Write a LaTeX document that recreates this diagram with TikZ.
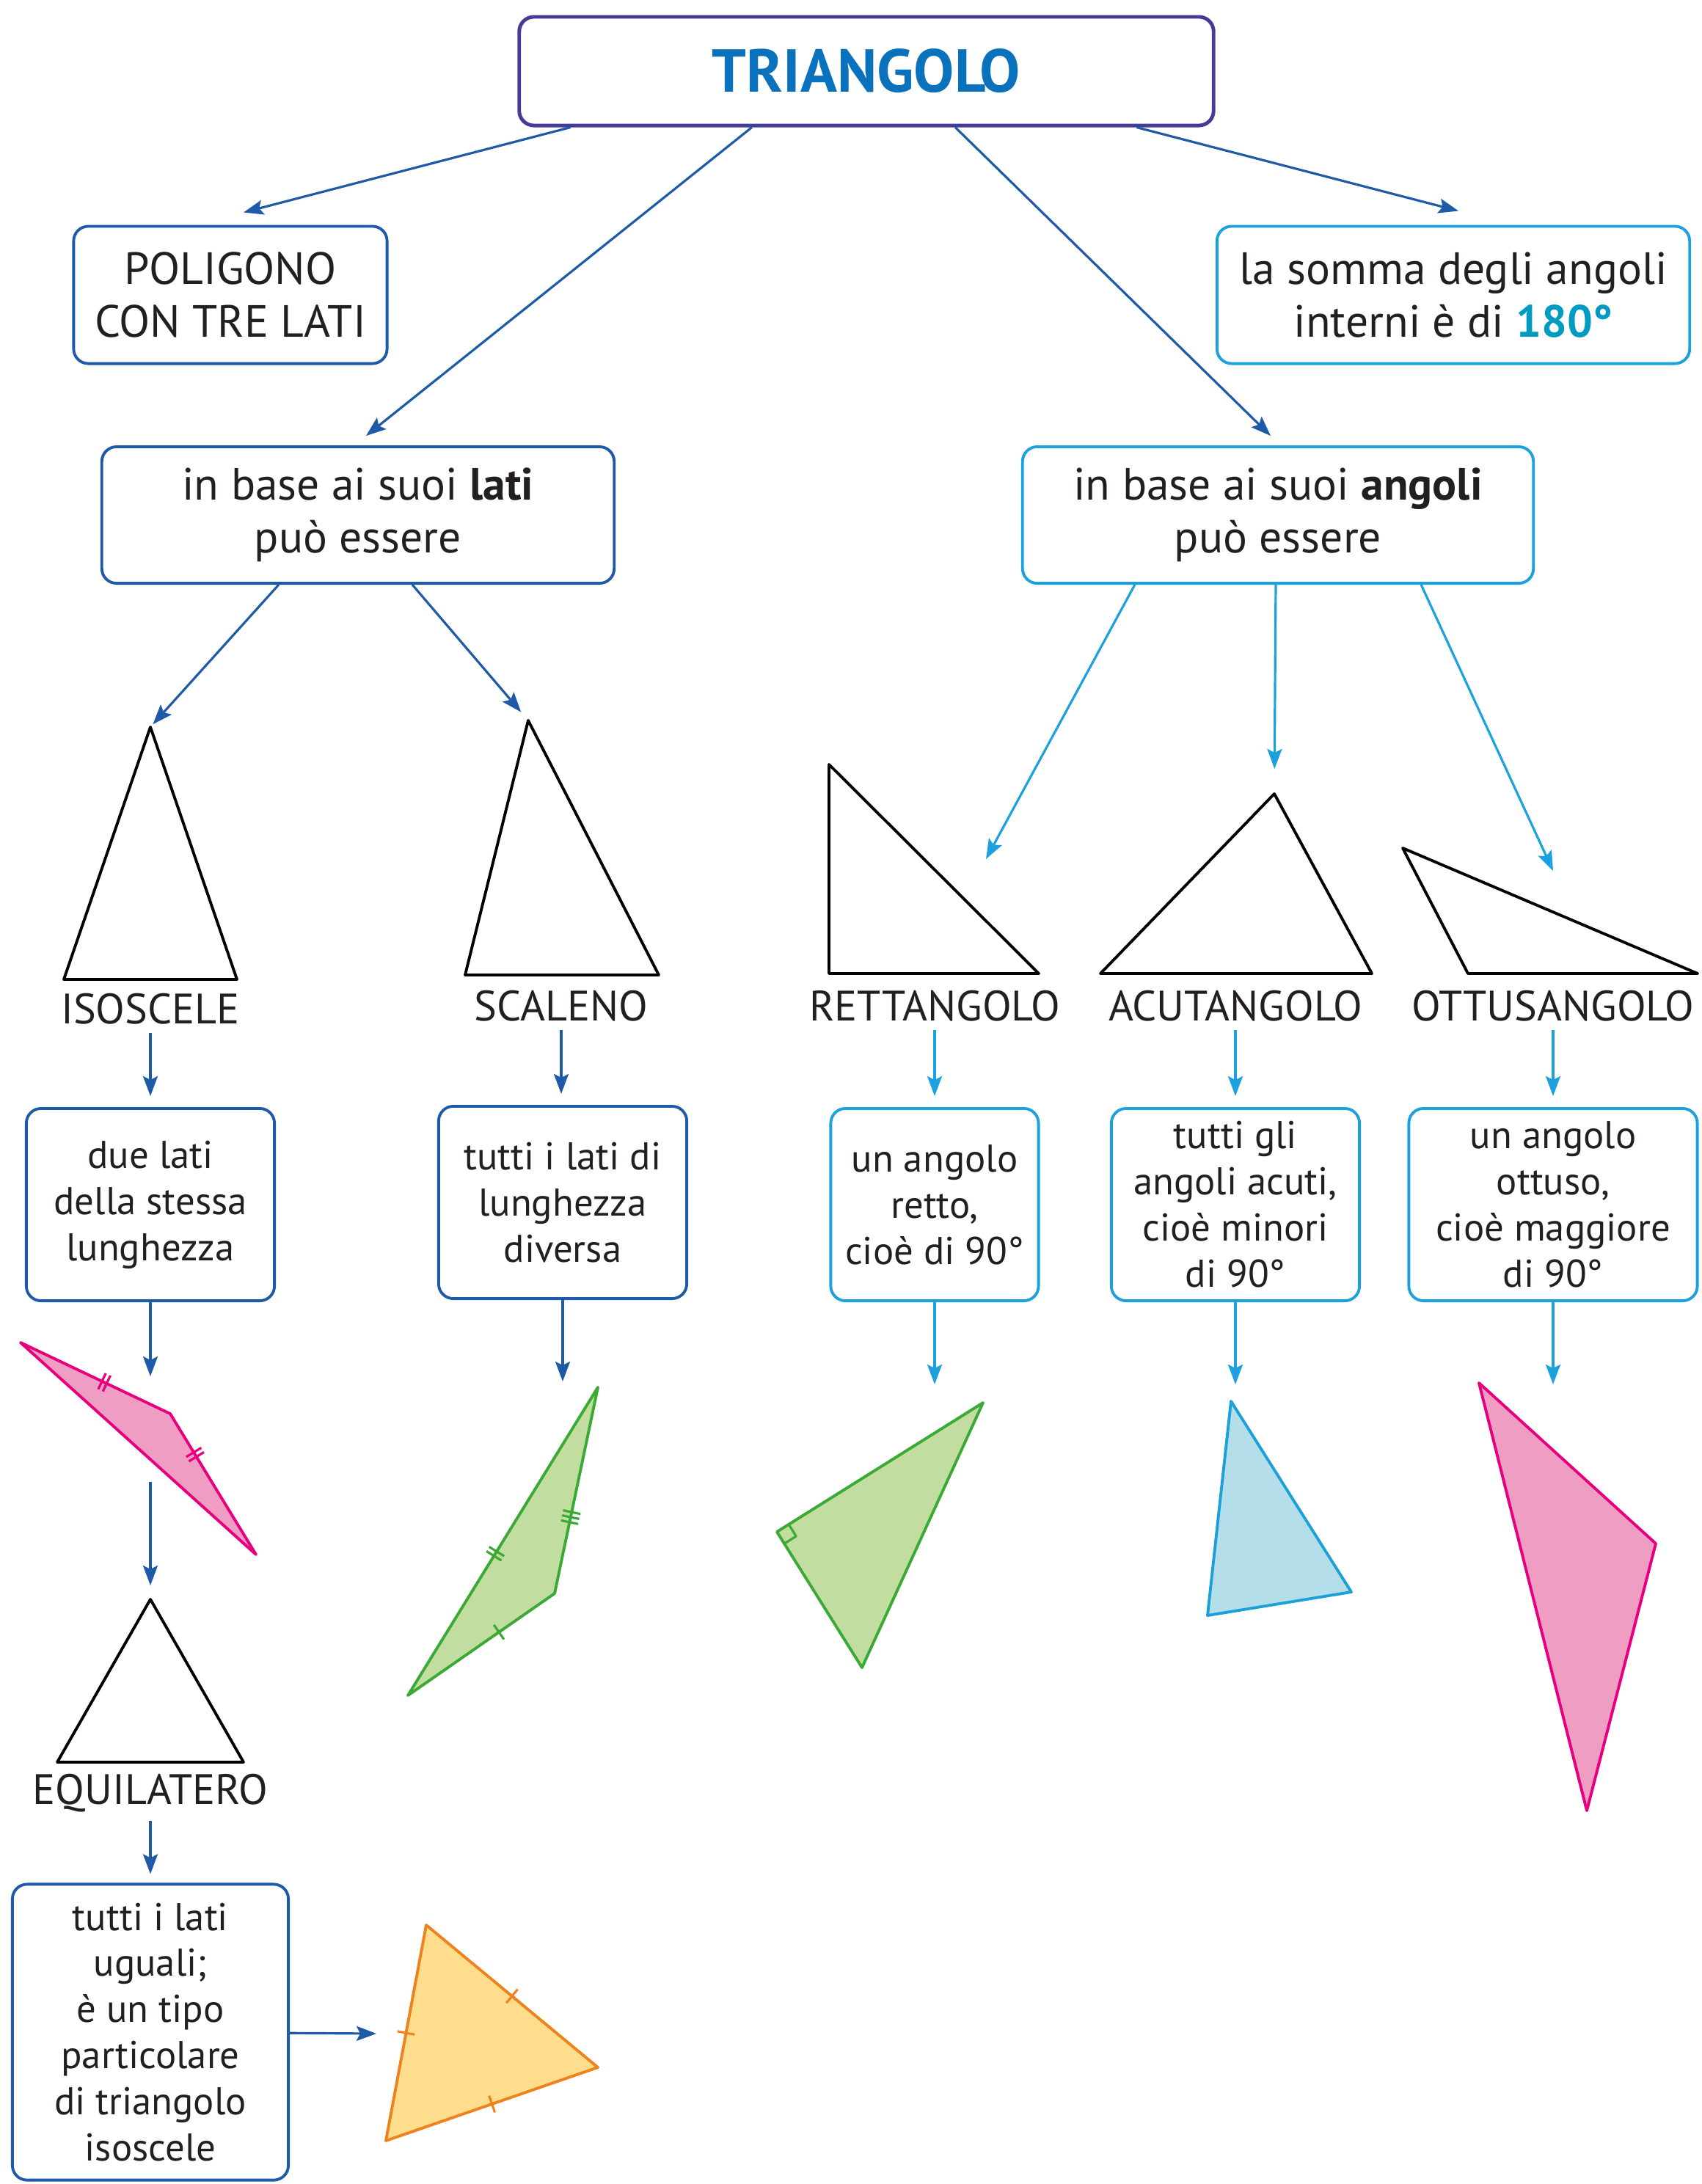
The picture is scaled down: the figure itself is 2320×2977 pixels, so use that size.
\documentclass[tikz,border=0pt]{standalone}
\usepackage{fontspec}
\setmainfont{PT Sans}
\usepackage{xcolor}
\usetikzlibrary{arrows.meta,calc,decorations.markings}

\definecolor{titleframe}{RGB}{68,60,150}
\definecolor{titleblue}{RGB}{10,114,188}
\definecolor{darkblue}{RGB}{30,90,168}
\definecolor{skyblue}{RGB}{28,160,222}
\definecolor{tealtext}{RGB}{0,155,195}
\definecolor{inktext}{RGB}{35,31,32}
\definecolor{pinkline}{RGB}{230,0,126}
\definecolor{pinkfill}{RGB}{240,157,196}
\definecolor{greenline}{RGB}{58,170,53}
\definecolor{greenfill}{RGB}{194,221,160}
\definecolor{blueline}{RGB}{28,160,216}
\definecolor{bluefill}{RGB}{180,222,234}
\definecolor{orangeline}{RGB}{240,130,30}
\definecolor{orangefill}{RGB}{254,222,140}

\tikzset{
  box/.style={draw=darkblue, rounded corners=0.2cm, line width=1.1pt, align=center,
    inner sep=0pt, text=inktext, font=\fontsize{17.5}{20.4}\selectfont},
  lightbox/.style={box, draw=skyblue},
  smallfont/.style={font=\fontsize{15}{17.9}\selectfont},
  lbl/.style={text=inktext, font=\fontsize{16.5}{19}\selectfont},
  arrD/.style={color=darkblue, line width=0.9pt, -{Stealth[length=0.27cm,width=0.2cm,inset=0.05cm]}},
  arrL/.style={arrD, color=skyblue},
  outl/.style={draw=black, line width=1.1pt},
  tickA/.style={postaction={decorate,decoration={markings,mark=at position #1 with
    {\draw[line width=0.9pt] (0,-0.12cm) -- (0,0.12cm);}}}},
  tickB/.style={postaction={decorate,decoration={markings,mark=at position #1 with
    {\foreach \d in {-0.035,0.035} \draw[line width=0.9pt] (\d cm,-0.12cm) -- (\d cm,0.12cm);}}}},
  tickC/.style={postaction={decorate,decoration={markings,mark=at position #1 with
    {\foreach \d in {-0.07,0,0.07} \draw[line width=0.9pt] (\d cm,-0.12cm) -- (\d cm,0.12cm);}}}},
}

\begin{document}
\begin{tikzpicture}[x=0.01cm, y=-0.01cm, line join=round]
    \useasboundingbox (0,0) rectangle (2320,2977);

    \node[box, draw=titleframe, line width=1.4pt, minimum width=9.46cm, minimum height=1.48cm,
      font=\fontsize{23.5}{27}\selectfont\bfseries, text=titleblue] (title) at (1181,97) {TRIANGOLO};

    \node[box, minimum width=4.27cm, minimum height=1.87cm] (poli) at (314,402) {POLIGONO\\CON TRE LATI};
    \node[lightbox, minimum width=6.44cm, minimum height=1.87cm] (somma) at (1981,402)
      {la somma degli angoli\\interni è di \textcolor{tealtext}{\bfseries 180°}};
    \node[box, minimum width=6.98cm, minimum height=1.86cm] (lati) at (488,702) {in base ai suoi \textbf{lati}\\può essere};
    \node[lightbox, minimum width=6.96cm, minimum height=1.86cm] (angoli) at (1742,702) {in base ai suoi \textbf{angoli}\\può essere};

    \draw[arrD] ([xshift=-4.03cm]title.south) -- ([xshift=0.18cm,yshift=0.17cm]poli.north);
    \draw[arrD] ([xshift=-1.56cm]title.south) -- ([xshift=0.11cm,yshift=0.13cm]lati.north);
    \draw[arrD] ([xshift=1.21cm]title.south) -- ([xshift=-0.10cm,yshift=0.13cm]angoli.north);
    \draw[arrD] ([xshift=3.68cm]title.south) -- ([xshift=0.07cm,yshift=0.19cm]somma.north);

    \coordinate (isoA) at (205,991);  \coordinate (isoB) at (87,1335);   \coordinate (isoC) at (323,1335);
    \coordinate (sclA) at (720,982);  \coordinate (sclB) at (634,1329);  \coordinate (sclC) at (898,1329);
    \coordinate (retA) at (1130,1042); \coordinate (retB) at (1130,1327); \coordinate (retC) at (1416,1327);
    \coordinate (acuA) at (1737,1082); \coordinate (acuB) at (1500,1327); \coordinate (acuC) at (1870,1327);
    \coordinate (ottA) at (1912,1156); \coordinate (ottB) at (2001,1327); \coordinate (ottC) at (2314,1327);
    \coordinate (equA) at (205,2180); \coordinate (equB) at (78,2402);   \coordinate (equC) at (332,2402);

    \foreach \t in {iso,scl,ret,acu,ott,equ}
        \draw[outl] (\t A) -- (\t B) -- (\t C) -- cycle;

    \node[lbl] (isoL) at (205,1375) {ISOSCELE};
    \node[lbl] (sclL) at (765,1371) {SCALENO};
    \node[lbl] (retL) at (1274,1371) {RETTANGOLO};
    \node[lbl] (acuL) at (1684,1371) {ACUTANGOLO};
    \node[lbl] (ottL) at (2117,1371) {OTTUSANGOLO};
    \node[lbl] (equL) at (205,2444) {EQUILATERO};

    \coordinate (retTip) at (1344,1171);
    \coordinate (ottTip) at (2117,1187);
    \draw[arrD, shorten >=0.05cm] ([xshift=-1.08cm]lati.south) -- (isoA);
    \draw[arrD, shorten >=0.15cm] ([xshift=0.74cm]lati.south) -- (sclA);
    \draw[arrL] ([xshift=-1.95cm]angoli.south) -- (retTip);
    \draw[arrL, shorten >=0.34cm] ([xshift=-0.03cm]angoli.south) -- (acuA);
    \draw[arrL] ([xshift=1.95cm]angoli.south) -- (ottTip);

    \node[box, smallfont, minimum width=3.38cm, minimum height=2.62cm] (due) at (205,1642) {due lati\\della stessa\\lunghezza};
    \node[box, smallfont, minimum width=3.38cm, minimum height=2.62cm] (tutti) at (767,1639) {tutti i lati di\\lunghezza\\diversa};
    \node[lightbox, smallfont, minimum width=2.83cm, minimum height=2.62cm] (retto) at (1274,1642) {un angolo\\retto,\\cioè di 90°};
    \node[lightbox, smallfont, minimum width=3.38cm, minimum height=2.62cm] (acuti) at (1684,1642) {tutti gli\\angoli acuti,\\cioè minori\\di 90°};
    \node[lightbox, smallfont, minimum width=3.93cm, minimum height=2.62cm] (ottuso) at (2117,1642) {un angolo\\ottuso,\\cioè maggiore\\di 90°};

    \draw[arrD, shorten >=0.15cm] (isoL) -- (due);
    \draw[arrD, shorten >=0.15cm] (sclL) -- (sclL |- tutti.north);
    \draw[arrL, shorten >=0.15cm] (retL) -- (retL |- retto.north);
    \draw[arrL, shorten >=0.15cm] (acuL) -- (acuti);
    \draw[arrL, shorten >=0.15cm] (ottL) -- (ottL |- ottuso.north);

    \coordinate (pkA) at (28,1830);   \coordinate (pkB) at (232,1927);  \coordinate (pkC) at (349,2119);
    \coordinate (sgA) at (815,1891);  \coordinate (sgB) at (756,2172);  \coordinate (sgC) at (556,2311);
    \coordinate (rgA) at (1340,1912); \coordinate (rgB) at (1059,2088); \coordinate (rgC) at (1175,2273);
    \coordinate (blA) at (1678,1910); \coordinate (blB) at (1646,2202); \coordinate (blC) at (1842,2170);
    \coordinate (poA) at (2016,1885); \coordinate (poB) at (2257,2104); \coordinate (poC) at (2163,2468);
    \coordinate (orA) at (581,2624);  \coordinate (orB) at (815,2818);  \coordinate (orC) at (526,2918);

    \draw[draw=pinkline, fill=pinkfill, line width=1.1pt] (pkA) -- (pkB) -- (pkC) -- cycle;
    \draw[draw=greenline, fill=greenfill, line width=1.1pt] (sgA) -- (sgB) -- (sgC) -- cycle;
    \draw[draw=greenline, fill=greenfill, line width=1.1pt] (rgA) -- (rgB) -- (rgC) -- cycle;
    \draw[draw=blueline, fill=bluefill, line width=1.1pt] (blA) -- (blB) -- (blC) -- cycle;
    \draw[draw=pinkline, fill=pinkfill, line width=1.1pt] (poA) -- (poB) -- (poC) -- cycle;
    \draw[draw=orangeline, fill=orangefill, line width=1.1pt] (orA) -- (orB) -- (orC) -- cycle;

    \path[color=pinkline, tickB=0.56] (pkA) -- (pkB);
    \path[color=pinkline, tickB=0.29] (pkB) -- (pkC);
    \path[color=greenline, tickB=0.54] (sgA) -- (sgC);
    \path[color=greenline, tickC=0.63] (sgA) -- (sgB);
    \path[color=greenline, tickA=0.38] (sgB) -- (sgC);
    \path[color=orangeline, tickA=0.5] (orA) -- (orB);
    \path[color=orangeline, tickA=0.5] (orB) -- (orC);
    \path[color=orangeline, tickA=0.5] (orC) -- (orA);
    \coordinate (ra1) at ($(rgB)!0.19cm!(rgA)$);
    \coordinate (ra2) at ($(rgB)!0.19cm!(rgC)$);
    \draw[greenline, line width=0.9pt] (ra1) -- ($(ra1)+(ra2)-(rgB)$) -- (ra2);

    \coordinate (pkTip) at (205,1876);
    \coordinate (pkTail) at (205,2020);
    \coordinate (sgTip) at (767,1883);
    \coordinate (rgTip) at (1274,1887);
    \coordinate (blTip) at (1684,1887);
    \coordinate (poTip) at (2117,1887);
    \coordinate (orTip) at (513,2772);
    \draw[arrD] (due) -- (pkTip);
    \draw[arrD, shorten >=0.19cm] (pkTail) -- (equA);
    \draw[arrD] (tutti.south -| sgTip) -- (sgTip);
    \draw[arrL] (retto.south -| rgTip) -- (rgTip);
    \draw[arrL] (acuti) -- (blTip);
    \draw[arrL] (ottuso.south -| poTip) -- (poTip);

    \node[box, smallfont, minimum width=3.76cm, minimum height=4.03cm] (equiBox) at (205,2770)
      {tutti i lati\\uguali;\\è un tipo\\particolare\\di triangolo\\isoscele};
    \draw[arrD, shorten >=0.12cm] (equL) -- (equiBox);
    \draw[arrD] (equiBox) -- (orTip);
\end{tikzpicture}
\end{document}
